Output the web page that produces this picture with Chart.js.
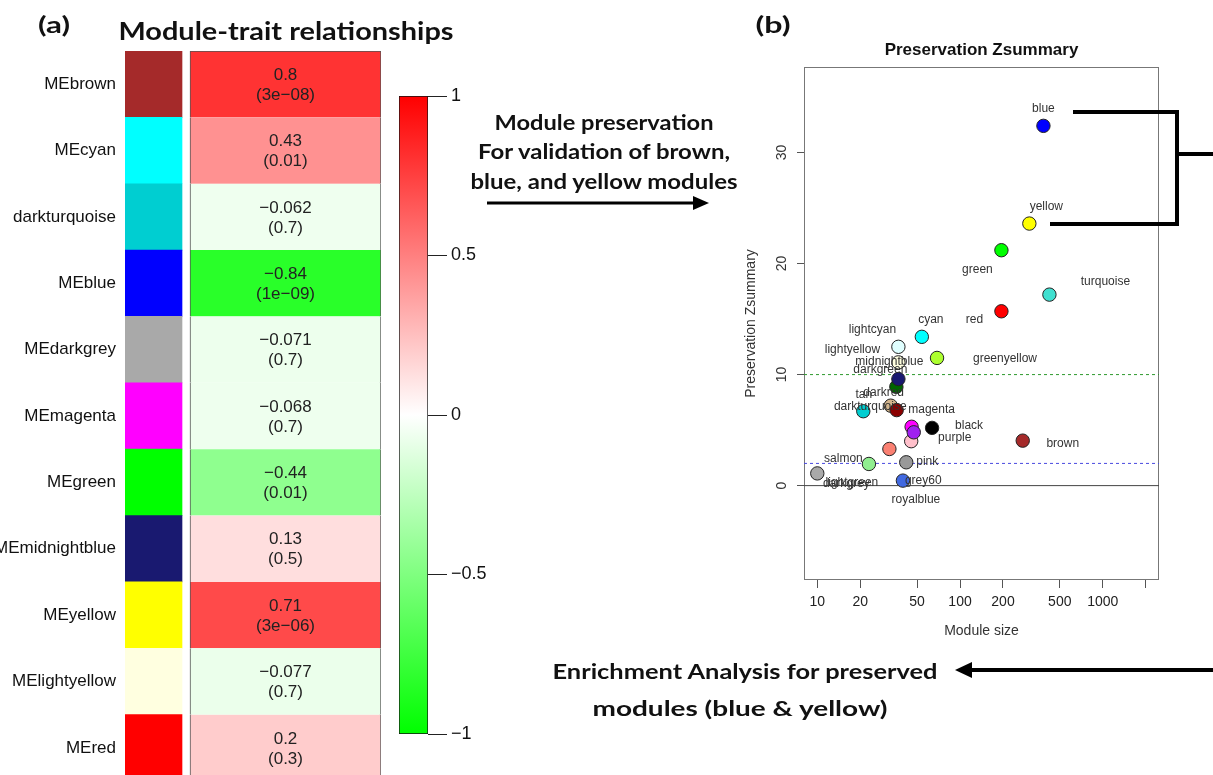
<!DOCTYPE html>
<html>
<head>
<meta charset="utf-8">
<script src="https://cdn.jsdelivr.net/npm/chart.js@4.4.1/dist/chart.umd.min.js"></script>
<style>
    html, body { margin: 0; padding: 0; width: 1213px; height: 775px; overflow: hidden; background: #fff; }
    canvas { position: absolute; }
    .txt { position: absolute; white-space: nowrap; line-height: 1; color: #111;
           font-family: Lato, "Open Sans", sans-serif; font-weight: 700; }
    svg { position: absolute; left: 0; top: 0; }
</style>
</head>
<body>
<canvas id="heat" width="385" height="781" style="left:0;top:0"></canvas>
<canvas id="scale" width="110" height="775" style="left:390px;top:0"></canvas>
<canvas id="zsum" width="483" height="660" style="left:730px;top:0"></canvas>

<svg width="1213" height="775">
    <path d="M1073 112 H1177 V224 H1050" fill="none" stroke="#000" stroke-width="4"/>
    <path d="M1177 154 H1213" fill="none" stroke="#000" stroke-width="4"/>
    <line x1="487" y1="203" x2="696" y2="203" stroke="#000" stroke-width="3"/>
    <polygon points="709,203 693,196 693,210" fill="#000"/>
    <line x1="1213" y1="670" x2="968" y2="670" stroke="#000" stroke-width="4"/>
    <polygon points="955,670 972,662 972,678" fill="#000"/>
</svg>

<div class="txt" data-x="54" data-y="25" data-w="32" style="font-size:22px">(a)</div>
<div class="txt" data-x="285.5" data-y="31" data-w="335" style="font-size:24px">Module-trait relationships</div>
<div class="txt" data-x="772.5" data-y="25" data-w="35" style="font-size:22px">(b)</div>
<div class="txt" data-x="603.5" data-y="121" data-w="219" style="font-size:21px">Module preservation</div>
<div class="txt" data-x="604" data-y="150" data-w="252" style="font-size:21px">For validation of brown,</div>
<div class="txt" data-x="603.5" data-y="180" data-w="267" style="font-size:21px">blue, and yellow modules</div>
<div class="txt" data-x="745" data-y="670" data-w="385" style="font-size:21px">Enrichment Analysis for preserved</div>
<div class="txt" data-x="740" data-y="707" data-w="295" style="font-size:21px">modules (blue &amp; yellow)</div>

<script>
// ---- panel (a): module-trait heatmap ----
const MODULES = ["MEbrown", "MEcyan", "darkturquoise", "MEblue", "MEdarkgrey", "MEmagenta",
    "MEgreen", "MEmidnightblue", "MEyellow", "MElightyellow", "MEred"];
const MODULE_COLORS = ["#A52A2A", "#00FFFF", "#00CED1", "#0000FF", "#A9A9A9", "#FF00FF",
    "#00FF00", "#191970", "#FFFF00", "#FFFFE0", "#FF0000"];
const TRAIT_COR = [0.8, 0.43, -0.062, -0.84, -0.071, -0.068, -0.44, 0.13, 0.71, -0.077, 0.2];
const TRAIT_P = ["3e-08", "0.01", "0.7", "1e-09", "0.7", "0.7", "0.01", "0.5", "3e-06", "0.7", "0.3"];
const SCALE_TICKS = [-1, -0.5, 0, 0.5, 1];

// ---- panel (b): preservation Zsummary ----
const PRES_MODULES = ["turquoise", "blue", "yellow", "green", "red", "brown", "cyan", "greenyellow",
    "lightcyan", "lightyellow", "darkgreen", "midnightblue", "tan", "darkred", "darkturquoise",
    "black", "magenta", "pink", "purple", "salmon", "lightgreen", "grey60", "darkgrey", "royalblue"];
const PRES_SIZE = [423, 384, 306, 195, 195, 275, 54, 69, 37, 37, 35.8, 37, 32.7, 36, 21,
    63.7, 45.8, 45.5, 47.4, 32, 23, 42, 10, 39.8];
const PRES_Z = [17.2, 32.4, 23.6, 21.2, 15.7, 4.05, 13.4, 11.5, 12.5, 11.1, 8.9, 9.6, 7.2, 6.8, 6.7,
    5.2, 5.3, 4.0, 4.8, 3.3, 1.95, 2.1, 1.1, 0.45];
const PRES_COLORS = ["#40E0D0", "#0000FF", "#FFFF00", "#00FF00", "#FF0000", "#A52A2A", "#00FFFF",
    "#ADFF2F", "#E0FFFF", "#FFFFE0", "#006400", "#191970", "#D2B48C", "#8B0000", "#00CED1",
    "#000000", "#FF00FF", "#FFC0CB", "#A020F0", "#FA8072", "#90EE90", "#999999", "#A9A9A9", "#4169E1"];
const X_TICKS = [10, 20, 50, 100, 200, 500, 1000, 2000];
const X_TICK_LABELS = ["10", "20", "50", "100", "200", "500", "1000", ""];
const Y_TICKS = [0, 10, 20, 30];
const THRESHOLDS = [0, 2, 10];

// layout only (pixel offsets of the point labels, column spans of panel a)
const LABEL_OFFSETS = {
    blue: [0, -17], yellow: [17, -17], green: [-24, 19], turquoise: [56, -13], red: [-27, 8],
    cyan: [9, -17], lightcyan: [-26, -17], lightyellow: [-46, -13], greenyellow: [68, 1],
    midnightblue: [-9, -17], darkgreen: [-16, -17], tan: [-27, -11], darkred: [-13, -17],
    darkturquoise: [7, -5], magenta: [20, -17], black: [37, -2], purple: [41, 5],
    pink: [16, 20], brown: [40, 3], salmon: [-46, 10], lightgreen: [-17, 19],
    darkgrey: [29, 10], grey60: [17, 18], royalblue: [13, 19]
};
const STRIP_SPAN = [0, 57];
const CELL_SPAN = [65, 256];
const X_MIN = 8.07;
const X_MAX = 2478;

const FONT = '"Liberation Sans", Arial, sans-serif';
Chart.defaults.font.family = FONT;

function minus(v) {
    return String(v).replace("-", "\u2212");
}

function corColor(v) {
    const c = Math.round(255 * (1 - Math.abs(v)));
    return v >= 0 ? `rgb(255,${c},${c})` : `rgb(${c},255,${c})`;
}

function noPad(scale) {
    scale.paddingTop = 0;
    scale.paddingBottom = 0;
    scale.paddingLeft = 0;
    scale.paddingRight = 0;
}

const cellText = {
    id: "cellText",
    afterDatasetsDraw(chart) {
        const ctx = chart.ctx;
        ctx.save();
        ctx.font = `17px ${FONT}`;
        ctx.fillStyle = "#222";
        ctx.textAlign = "center";
        ctx.textBaseline = "middle";
        chart.getDatasetMeta(1).data.forEach((bar, i) => {
            const c = bar.getCenterPoint();
            ctx.fillText(minus(TRAIT_COR[i]), c.x, c.y - 9);
            ctx.fillText("(" + minus(TRAIT_P[i]) + ")", c.x, c.y + 11);
        });
        ctx.restore();
    },
};

new Chart(document.getElementById("heat"), {
    type: "bar",
    data: {
        labels: MODULES,
        datasets: [
            {
                data: MODULES.map(() => STRIP_SPAN),
                backgroundColor: MODULE_COLORS,
                borderWidth: 0,
            },
            {
                data: MODULES.map(() => CELL_SPAN),
                backgroundColor: TRAIT_COR.map(corColor),
                borderColor: "#555",
                borderSkipped: false,
                borderWidth: (c) => ({ left: 1, right: 1, top: c.dataIndex === 0 ? 1 : 0, bottom: 0 }),
            },
        ],
    },
    options: {
        indexAxis: "y",
        responsive: false,
        animation: false,
        events: [],
        datasets: { bar: { grouped: false, barPercentage: 1, categoryPercentage: 1 } },
        layout: { padding: { left: 0, right: 4, top: 51, bottom: 0 } },
        plugins: { legend: { display: false }, tooltip: { enabled: false } },
        scales: {
            x: { display: false, min: 0, max: CELL_SPAN[1] },
            y: {
                afterFit: (s) => { s.width = 125; noPad(s); },
                grid: { display: false, drawTicks: false },
                border: { display: false },
                ticks: { color: "#111", padding: 9, font: { size: 17 }, autoSkip: false },
            },
        },
    },
    plugins: [cellText],
});

new Chart(document.getElementById("scale"), {
    type: "bar",
    data: {
        labels: [""],
        datasets: [
            {
                data: [[SCALE_TICKS[0], SCALE_TICKS[SCALE_TICKS.length - 1]]],
                backgroundColor: (c) => {
                    const a = c.chart.chartArea;
                    if (!a) return "#fff";
                    const g = c.chart.ctx.createLinearGradient(0, a.top, 0, a.bottom);
                    g.addColorStop(0, corColor(1));
                    g.addColorStop(0.5, corColor(0));
                    g.addColorStop(1, corColor(-1));
                    return g;
                },
                borderColor: "#111",
                borderWidth: 1,
                borderSkipped: false,
                barPercentage: 1,
                categoryPercentage: 1,
            },
        ],
    },
    options: {
        responsive: false,
        animation: false,
        events: [],
        layout: { padding: { left: 9, right: 0, top: 96, bottom: 41 } },
        plugins: { legend: { display: false }, tooltip: { enabled: false } },
        scales: {
            x: { display: false },
            y: {
                position: "right",
                min: -1,
                max: 1,
                afterBuildTicks: (s) => { s.ticks = SCALE_TICKS.map((v) => ({ value: v })); },
                afterFit: (s) => { s.width = 72; noPad(s); },
                grid: { drawOnChartArea: false, tickLength: 19, color: "#222" },
                border: { display: false },
                ticks: { callback: (v) => minus(v), color: "#111", padding: 4, font: { size: 18 } },
            },
        },
    },
});

const plotFrame = {
    id: "plotFrame",
    beforeDatasetsDraw(chart) {
        const { ctx, chartArea: a } = chart;
        ctx.save();
        ctx.strokeStyle = "#777";
        ctx.lineWidth = 1;
        ctx.strokeRect(a.left + 0.5, a.top + 0.5, a.right - a.left - 1, a.bottom - a.top - 1);
        ctx.restore();
    },
};

const yTickLabels = {
    id: "yTickLabels",
    afterDraw(chart) {
        const { ctx, chartArea: a } = chart;
        const y = chart.scales.y;
        ctx.save();
        ctx.font = `14px ${FONT}`;
        ctx.fillStyle = "#333";
        ctx.textAlign = "center";
        ctx.textBaseline = "middle";
        Y_TICKS.forEach((v) => {
            ctx.save();
            ctx.translate(a.left - 22, y.getPixelForValue(v));
            ctx.rotate(-Math.PI / 2);
            ctx.fillText(String(v), 0, 0);
            ctx.restore();
        });
        ctx.restore();
    },
};

const pointLabels = {
    id: "pointLabels",
    afterDatasetsDraw(chart) {
        const ctx = chart.ctx;
        ctx.save();
        ctx.font = `12px ${FONT}`;
        ctx.fillStyle = "#333";
        ctx.textAlign = "center";
        ctx.textBaseline = "middle";
        chart.getDatasetMeta(0).data.forEach((pt, i) => {
            const off = LABEL_OFFSETS[PRES_MODULES[i]] || [0, -15];
            ctx.fillText(PRES_MODULES[i], pt.x + off[0], pt.y + off[1]);
        });
        ctx.restore();
    },
};

const THRESHOLD_STYLE = {
    0: { color: "#444", dash: [] },
    2: { color: "#4a4ae0", dash: [3, 3] },
    10: { color: "#2f9a2f", dash: [3, 3] },
};

new Chart(document.getElementById("zsum"), {
    type: "scatter",
    data: {
        datasets: [
            {
                data: PRES_MODULES.map((m, i) => ({ x: PRES_SIZE[i], y: PRES_Z[i] })),
                backgroundColor: PRES_COLORS,
                borderColor: "#222",
                borderWidth: 1,
                pointRadius: 6.7,
                order: 0,
            },
        ].concat(THRESHOLDS.map((t) => ({
            type: "line",
            data: [{ x: X_MIN, y: t }, { x: X_MAX, y: t }],
            borderColor: THRESHOLD_STYLE[t].color,
            borderDash: THRESHOLD_STYLE[t].dash,
            borderWidth: 1,
            pointRadius: 0,
            order: 1,
        }))),
    },
    options: {
        responsive: false,
        animation: false,
        events: [],
        layout: { padding: { left: 0, right: 54, top: 0, bottom: 10 } },
        plugins: {
            legend: { display: false },
            tooltip: { enabled: false },
            title: {
                display: true,
                fullSize: false,
                text: "Preservation Zsummary",
                color: "#111",
                font: { size: 17, weight: "bold" },
                padding: { top: 40, bottom: 6.6 },
            },
        },
        scales: {
            x: {
                type: "logarithmic",
                min: X_MIN,
                max: X_MAX,
                afterBuildTicks: (s) => { s.ticks = X_TICKS.map((v) => ({ value: v })); },
                afterFit: (s) => { s.height = 70; noPad(s); },
                grid: { drawOnChartArea: false, tickLength: 8, color: "#555" },
                border: { display: false },
                ticks: {
                    callback: (v, i) => X_TICK_LABELS[i],
                    autoSkip: false,
                    maxRotation: 0,
                    color: "#222",
                    padding: 6,
                    font: { size: 14 },
                },
                title: {
                    display: true,
                    text: "Module size",
                    color: "#333",
                    font: { size: 14 },
                    padding: { top: 0, bottom: 10 },
                },
            },
            y: {
                min: -8.5,
                max: 37.7,
                afterBuildTicks: (s) => { s.ticks = Y_TICKS.map((v) => ({ value: v })); },
                afterFit: (s) => { s.width = 74; noPad(s); },
                grid: { drawOnChartArea: false, tickLength: 7, color: "#555" },
                border: { display: false },
                ticks: { display: false },
                title: {
                    display: true,
                    text: "Preservation Zsummary",
                    color: "#333",
                    font: { size: 14 },
                    padding: { top: 12.6, bottom: 0 },
                },
            },
        },
    },
    plugins: [plotFrame, yTickLabels, pointLabels],
});

function placeText() {
    document.querySelectorAll(".txt").forEach((el) => {
        const w = el.getBoundingClientRect().width / (el._sx || 1);
        const sx = Number(el.dataset.w) / w;
        el._sx = sx;
        el.style.left = el.dataset.x + "px";
        el.style.top = el.dataset.y + "px";
        el.style.transform = `translate(-50%, -50%) scaleX(${sx})`;
    });
}
placeText();
</script>
</body>
</html>
